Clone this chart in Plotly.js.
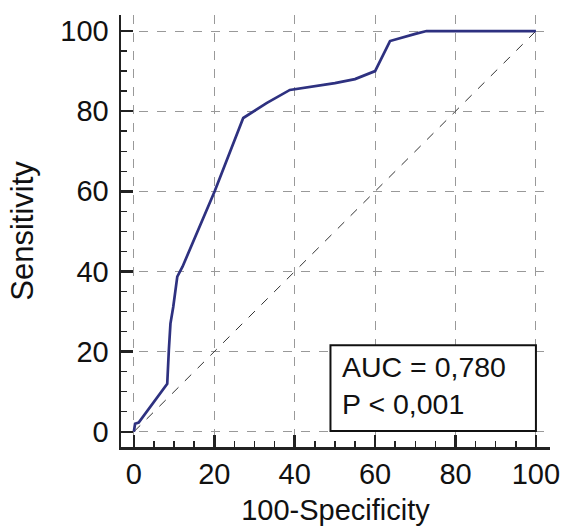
<!DOCTYPE html>
<html>
<head>
<meta charset="utf-8">
<script src="https://cdn.plot.ly/plotly-3.0.1.min.js"></script>
<style>html,body{margin:0;padding:0;background:#fff;}#chart{width:562px;height:526px;}</style>
</head>
<body>
<div id="chart"></div>
<script>
// ROC curve points (100-Specificity, Sensitivity)
var specComp = [0, 0.3, 1.2, 8.3, 8.7, 9.1, 9.8, 10.2, 10.8, 12.1, 20.1, 27.2, 33, 38.8, 45, 50, 55, 60, 63.7, 67, 70, 72.8, 100];
var sensitivity = [0, 2, 2.3, 12, 20.4, 27, 31.2, 34.5, 38.7, 41.2, 60, 78.3, 82, 85.3, 86.2, 87, 88, 90, 97.5, 98.5, 99.3, 100, 100];
var diagX = [0, 100];
var diagY = [0, 100];
var tickVals = [0, 20, 40, 60, 80, 100];
var aucText = "AUC = 0,780";
var pText = "P < 0,001";

var fontFam = "Liberation Sans, Arial, sans-serif";

var traces = [
  {x: diagX, y: diagY, mode: 'lines', line: {color: '#333', width: 1, dash: 'dash'}, hoverinfo: 'skip'},
  {x: specComp, y: sensitivity, mode: 'lines', line: {color: '#2e3180', width: 2.7}}
];

var axisCommon = {
  showline: true, linecolor: '#222', linewidth: 2.5, mirror: false,
  ticks: 'inside', ticklen: 12, tickwidth: 2.5, tickcolor: '#222',
  tickvals: tickVals, ticktext: tickVals.map(String),
  showgrid: true, gridcolor: '#999', gridwidth: 1, griddash: 'dash',
  zeroline: false,
  tickfont: {family: fontFam, size: 29, color: '#111'},
  minor: {ticks: 'inside', ticklen: 6, tickwidth: 1.5, tickcolor: '#222', dtick: 5, tick0: 0, showgrid: false}
};

var layout = {
  width: 562, height: 526,
  margin: {l: 121, r: 12, t: 15, b: 79},
  paper_bgcolor: '#fff', plot_bgcolor: '#fff',
  showlegend: false,
  font: {family: fontFam, color: '#111'},
  xaxis: Object.assign({}, axisCommon, {
    range: [-3.2, 103.5],
    ticklabelstandoff: 0,
    title: {text: '100-Specificity', font: {family: fontFam, size: 29, color: '#111'}, standoff: 14}
  }),
  yaxis: Object.assign({}, axisCommon, {
    range: [-3.8, 104],
    ticklabelstandoff: 4,
    title: {text: 'Sensitivity', font: {family: fontFam, size: 31, color: '#111'}, standoff: 18}
  }),
  shapes: [
    {type: 'rect', xref: 'x', yref: 'y', x0: 48.9, x1: 100, y0: 0.2, y1: 21.6,
     line: {color: '#111', width: 2}, fillcolor: '#fff', layer: 'above'}
  ],
  annotations: [
    {xref: 'x', yref: 'y', x: 51.2, y: 11.6, xanchor: 'left', yanchor: 'middle', align: 'left',
     text: aucText + '<br>' + pText, showarrow: false,
     font: {family: fontFam, size: 28.5, color: '#111'}}
  ]
};

Plotly.newPlot('chart', traces, layout, {staticPlot: true, displayModeBar: false});
</script>
</body>
</html>
